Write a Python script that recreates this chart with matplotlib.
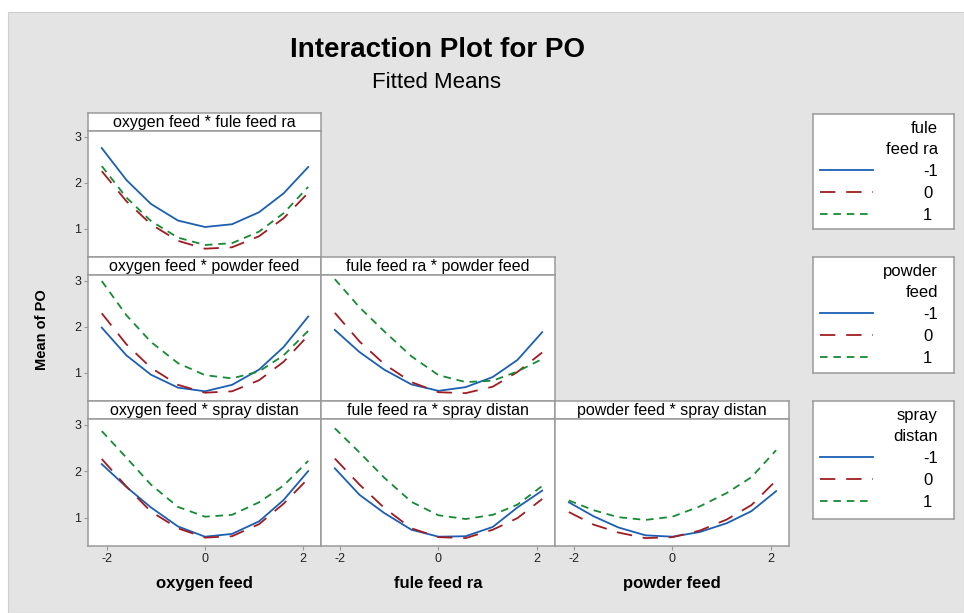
"""Interaction plot for PO (fitted means), Minitab-style panel grid."""

import matplotlib

matplotlib.use("Agg")
import matplotlib.pyplot as plt
from matplotlib.patches import Rectangle

plt.rcParams["font.family"] = ["Liberation Sans", "DejaVu Sans"]
plt.rcParams["axes.unicode_minus"] = False

# factor levels along each x axis (coded units)
x_levels = [-2.1, -1.6, -1.1, -0.55, 0.0, 0.55, 1.1, 1.6, 2.1]

# fitted means, one list per hold level (-1, 0, 1)
oxy_fule_m1 = [2.75, 2.06, 1.54, 1.18, 1.04, 1.10, 1.36, 1.77, 2.34]
oxy_fule_0 = [2.25, 1.60, 1.10, 0.74, 0.57, 0.60, 0.84, 1.23, 1.78]
oxy_fule_p1 = [2.36, 1.68, 1.17, 0.81, 0.65, 0.69, 0.94, 1.34, 1.91]

oxy_powder_m1 = [1.98, 1.38, 0.96, 0.68, 0.60, 0.74, 1.07, 1.56, 2.22]
oxy_powder_0 = [2.29, 1.62, 1.11, 0.74, 0.57, 0.60, 0.84, 1.24, 1.81]
oxy_powder_p1 = [2.99, 2.25, 1.67, 1.21, 0.95, 0.88, 1.03, 1.38, 1.91]

fule_powder_m1 = [1.93, 1.45, 1.07, 0.75, 0.61, 0.69, 0.91, 1.28, 1.88]
fule_powder_0 = [2.30, 1.68, 1.19, 0.80, 0.58, 0.56, 0.70, 1.02, 1.44]
fule_powder_p1 = [3.03, 2.42, 1.90, 1.36, 0.95, 0.80, 0.83, 1.03, 1.30]

oxy_spray_m1 = [2.15, 1.66, 1.22, 0.81, 0.59, 0.65, 0.92, 1.38, 2.00]
oxy_spray_0 = [2.26, 1.67, 1.13, 0.77, 0.57, 0.60, 0.86, 1.30, 1.84]
oxy_spray_p1 = [2.86, 2.29, 1.71, 1.23, 1.02, 1.06, 1.33, 1.69, 2.22]

fule_spray_m1 = [2.06, 1.49, 1.10, 0.74, 0.59, 0.60, 0.80, 1.22, 1.58]
fule_spray_0 = [2.27, 1.71, 1.21, 0.77, 0.58, 0.56, 0.74, 0.99, 1.40]
fule_spray_p1 = [2.92, 2.40, 1.86, 1.34, 1.05, 0.97, 1.06, 1.28, 1.68]

powder_spray_m1 = [1.33, 1.03, 0.79, 0.62, 0.59, 0.69, 0.88, 1.14, 1.57]
powder_spray_0 = [1.12, 0.85, 0.68, 0.56, 0.58, 0.72, 0.96, 1.27, 1.80]
powder_spray_p1 = [1.37, 1.16, 1.01, 0.95, 1.02, 1.24, 1.53, 1.87, 2.45]

panel_titles = {
    (0, 0): "oxygen feed * fule feed ra",
    (1, 0): "oxygen feed * powder feed",
    (1, 1): "fule feed ra * powder feed",
    (2, 0): "oxygen feed * spray distan",
    (2, 1): "fule feed ra * spray distan",
    (2, 2): "powder feed * spray distan",
}
panel_series = {
    (0, 0): [oxy_fule_m1, oxy_fule_0, oxy_fule_p1],
    (1, 0): [oxy_powder_m1, oxy_powder_0, oxy_powder_p1],
    (1, 1): [fule_powder_m1, fule_powder_0, fule_powder_p1],
    (2, 0): [oxy_spray_m1, oxy_spray_0, oxy_spray_p1],
    (2, 1): [fule_spray_m1, fule_spray_0, fule_spray_p1],
    (2, 2): [powder_spray_m1, powder_spray_0, powder_spray_p1],
}
x_names = ["oxygen feed", "fule feed ra", "powder feed"]
legend_titles = ["fule\nfeed ra", "powder\nfeed", "spray\ndistan"]
level_labels = ["-1", "0", "1"]

BLUE = "#1b5fb2"
RED = "#a01c22"
GREEN = "#168a34"
GRAY = "#9a9a9a"
line_styles = [
    dict(color=BLUE, linestyle="-"),
    dict(color=RED, dashes=(8.5, 6.0)),
    dict(color=GREEN, dashes=(4.2, 3.2)),
]

W, H = 964, 613
col_edges = [88, 321, 555, 789]
strip_tops = [113, 257, 401]
strip_h = 18
plot_bottoms = [257, 401, 546]
legend_boxes = [(813, 114, 954, 229), (813, 257, 954, 373), (813, 401, 954, 519)]


def px_rect(x0, y0, x1, y1):
    return [x0 / W, 1 - y1 / H, (x1 - x0) / W, (y1 - y0) / H]


fig = plt.figure(figsize=(W / 100, H / 100), dpi=100, facecolor="white")
fig.patches.append(
    Rectangle((8 / W, 0), 1 - 8 / W, 1 - 12 / H, transform=fig.transFigure,
              facecolor="#e4e4e4", edgecolor="#cfcfcf", lw=0.8, zorder=-10)
)

legend_handles = {}
for (r, c), series in panel_series.items():
    x0, x1 = col_edges[c], col_edges[c + 1]
    top = strip_tops[r]

    sax = fig.add_axes(px_rect(x0, top, x1, top + strip_h))
    sax.set_facecolor("white")
    sax.set_xticks([])
    sax.set_yticks([])
    for sp in sax.spines.values():
        sp.set_color(GRAY)
        sp.set_linewidth(1.1)
    sax.text(0.5, 0.45, panel_titles[(r, c)], ha="center", va="center",
             fontsize=11.5, transform=sax.transAxes)

    ax = fig.add_axes(px_rect(x0, top + strip_h, x1, plot_bottoms[r]))
    ax.set_facecolor("white")
    handles = []
    for values, style in zip(series, line_styles):
        (ln,) = ax.plot(x_levels, values, lw=1.3, **style)
        handles.append(ln)
    if c == r:
        legend_handles[r] = handles

    ax.set_xlim(-2.38, 2.36)
    ax.set_ylim(0.39, 3.12)
    for sp in ax.spines.values():
        sp.set_color(GRAY)
        sp.set_linewidth(1.1)
    ax.tick_params(direction="out", length=3, width=0.8, color=GRAY,
                   labelsize=9, labelcolor="#222222", pad=2)
    if c == 0:
        ax.set_yticks([1, 2, 3])
    else:
        ax.set_yticks([])
    if r == 2:
        ax.set_xticks([-2, 0, 2])
        ax.set_xlabel(x_names[c], fontsize=12, fontweight="bold", labelpad=8)
    else:
        ax.set_xticks([])

for r, (bx0, by0, bx1, by1) in enumerate(legend_boxes):
    lax = fig.add_axes(px_rect(bx0, by0, bx1, by1))
    lax.set_facecolor("white")
    lax.set_xticks([])
    lax.set_yticks([])
    for sp in lax.spines.values():
        sp.set_color(GRAY)
        sp.set_linewidth(1.1)
    leg = lax.legend(
        handles=legend_handles[r], labels=level_labels, title=legend_titles[r],
        loc="upper left", bbox_to_anchor=(0, 1), borderaxespad=0, borderpad=0.4,
        frameon=False, fontsize=12, title_fontsize=12, alignment="right",
        handlelength=3.2, handletextpad=3.0, labelspacing=0.42,
    )
    leg.get_title().set_linespacing(1.55)
    leg.get_title().set_multialignment("right")

fig.text(437 / W, 1 - 50 / H, "Interaction Plot for PO", ha="center", va="center",
         fontsize=20, fontweight="bold")
fig.text(437 / W, 1 - 82 / H, "Fitted Means", ha="center", va="center", fontsize=16)
fig.text(42 / W, 1 - 330 / H, "Mean of PO", ha="center", va="center", rotation=90,
         fontsize=10.5, fontweight="bold")

fig.savefig("out.png", dpi=100, facecolor=fig.get_facecolor())
